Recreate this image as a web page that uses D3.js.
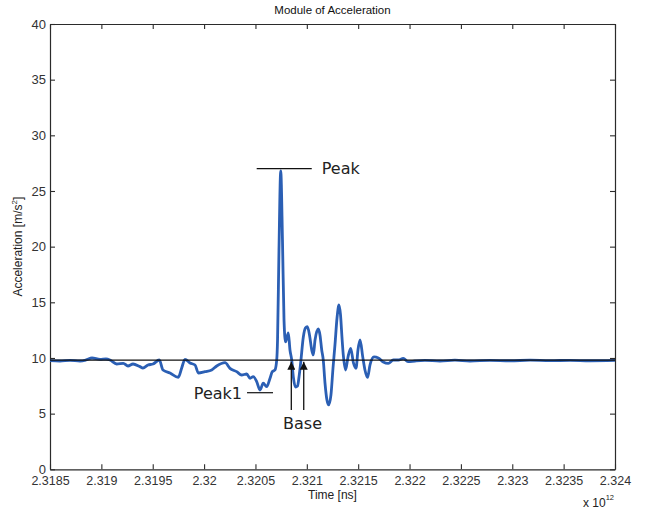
<!DOCTYPE html>
<html>
<head>
<meta charset="utf-8">
<script src="https://cdn.jsdelivr.net/npm/d3@7"></script>
<style>
  body { margin: 0; background: #fff; }
  svg text { font-family: "Liberation Sans", Arial, sans-serif; }
  .note { font-family: "DejaVu Sans", Verdana, sans-serif; font-size: 16px; fill: #222; }
</style>
</head>
<body>
<div id="container"></div>
<script>
// time in units of 1e12 ns
const time = [
  2.318500, 2.318597, 2.318695, 2.318792, 2.318850, 2.318909, 2.318987, 2.319045, 2.319084, 2.319149,
  2.319214, 2.319259, 2.319308, 2.319376, 2.319405, 2.319454, 2.319503, 2.319564, 2.319600, 2.319668,
  2.319749, 2.319782, 2.319814, 2.319863, 2.319912, 2.319944, 2.320009, 2.320074, 2.320123, 2.320204,
  2.320252, 2.320317, 2.320366, 2.320415, 2.320447, 2.320479, 2.320512, 2.320544, 2.320576, 2.320609,
  2.320642, 2.320664, 2.320690, 2.320707, 2.320715, 2.320729, 2.320746, 2.320763, 2.320778, 2.320793,
  2.320820, 2.320836, 2.320853, 2.320870, 2.320890, 2.320909, 2.320924, 2.320940, 2.320966, 2.320987,
  2.321005, 2.321026, 2.321048, 2.321063, 2.321080, 2.321112, 2.321128, 2.321145, 2.321160, 2.321177,
  2.321196, 2.321213, 2.321235, 2.321255, 2.321274, 2.321294, 2.321313, 2.321328, 2.321342, 2.321355,
  2.321377, 2.321401, 2.321427, 2.321454, 2.321479, 2.321498, 2.321518, 2.321544, 2.321566, 2.321591,
  2.321615, 2.321654, 2.321696, 2.321744, 2.321793, 2.321842, 2.321891, 2.321939, 2.321985, 2.322053,
  2.322150, 2.322296, 2.322442, 2.322588, 2.322783, 2.322978, 2.323173, 2.323367, 2.323562, 2.323757,
  2.324000
];

// acceleration module, m/s^2
const accel = [
  9.76, 9.73, 9.78, 9.73, 9.82, 10.00, 9.87, 9.91, 9.82, 9.46,
  9.52, 9.28, 9.46, 9.22, 9.10, 9.37, 9.46, 9.82, 8.92, 8.65,
  8.27, 9.10, 9.88, 9.55, 9.37, 8.65, 8.77, 8.92, 9.28, 9.58,
  9.07, 8.77, 8.47, 8.56, 8.18, 8.32, 7.87, 7.12, 7.73, 7.42,
  8.18, 8.77, 8.92, 9.82, 11.62, 19.71, 26.80, 20.60, 13.41, 11.44,
  12.25, 10.72, 9.82, 8.20, 7.39, 7.48, 8.29, 9.55, 11.89, 12.70,
  12.81, 12.07, 10.72, 10.27, 11.62, 12.61, 12.07, 10.72, 9.82, 7.75,
  6.22, 5.78, 6.68, 9.10, 11.17, 13.59, 14.76, 13.87, 11.89, 10.27,
  8.92, 10.09, 10.87, 9.55, 9.07, 10.72, 11.62, 10.12, 8.92, 8.25,
  9.37, 10.09, 10.00, 9.64, 9.52, 9.82, 9.82, 9.97, 9.67, 9.73,
  9.78, 9.73, 9.80, 9.73, 9.79, 9.75, 9.80, 9.76, 9.79, 9.75,
  9.78
];

const xTicks = [2.3185, 2.319, 2.3195, 2.32, 2.3205, 2.321, 2.3215, 2.322, 2.3225, 2.323, 2.3235, 2.324];
const yTicks = [0, 5, 10, 15, 20, 25, 30, 35, 40];

const baseLevel = 9.8;

// annotations (data coordinates)
const peakMark = { t0: 2.320512, t1: 2.321048, v: 27.0, label: 'Peak' };
const peak1Mark = { t0: 2.320418, t1: 2.320671, v: 6.88, label: 'Peak1' };
const baseArrows = [2.320849, 2.320970];
const baseArrowFrom = 5.33;

const width = 650, height = 513;
const plotLeft = 50, plotRight = 615, plotTop = 24, plotBottom = 469.3;

const svg = d3.select('#container')
  .append('svg')
  .attr('width', width)
  .attr('height', height);

const x = d3.scaleLinear().domain([2.3185, 2.324]).range([plotLeft, plotRight]);
const y = d3.scaleLinear().domain([0, 40]).range([plotBottom, plotTop]);

const axisColor = '#2b2b2b';

const styleAxis = g => {
  g.select('.domain').attr('stroke', axisColor).attr('stroke-width', 1.2);
  g.selectAll('.tick line').attr('stroke', axisColor).attr('stroke-width', 1.1);
  g.selectAll('.tick text').attr('fill', '#333').attr('font-family', '"Liberation Sans", Arial, sans-serif');
};

svg.append('g')
  .attr('transform', `translate(0,${plotBottom})`)
  .call(d3.axisBottom(x).tickValues(xTicks).tickFormat(d => String(d)).tickSize(-5).tickSizeOuter(0).tickPadding(7))
  .call(styleAxis)
  .call(g => g.selectAll('.tick text').attr('font-size', 12.5));

svg.append('g')
  .attr('transform', `translate(0,${plotTop})`)
  .call(d3.axisTop(x).tickValues(xTicks).tickFormat('').tickSize(-5).tickSizeOuter(0))
  .call(styleAxis);

svg.append('g')
  .attr('transform', `translate(${plotLeft},0)`)
  .call(d3.axisLeft(y).tickValues(yTicks).tickSize(-5).tickSizeOuter(0).tickPadding(4))
  .call(styleAxis)
  .call(g => g.selectAll('.tick text').attr('font-size', 13));

svg.append('g')
  .attr('transform', `translate(${plotRight},0)`)
  .call(d3.axisRight(y).tickValues(yTicks).tickFormat('').tickSize(-5).tickSizeOuter(0))
  .call(styleAxis);

// signal
const points = time.map((t, i) => [t, accel[i]]);

const line = d3.line()
  .x(d => x(d[0]))
  .y(d => y(d[1]))
  .curve(d3.curveMonotoneX);

svg.append('path')
  .datum(points)
  .attr('fill', 'none')
  .attr('stroke', '#2b5fb4')
  .attr('stroke-width', 2.8)
  .attr('stroke-linejoin', 'round')
  .attr('d', line);

// baseline level
svg.append('line')
  .attr('x1', x(2.3185)).attr('x2', x(2.324))
  .attr('y1', y(baseLevel)).attr('y2', y(baseLevel))
  .attr('stroke', '#111').attr('stroke-width', 1.3);

// Peak marker
svg.append('line')
  .attr('x1', x(peakMark.t0)).attr('x2', x(peakMark.t1))
  .attr('y1', y(peakMark.v)).attr('y2', y(peakMark.v))
  .attr('stroke', '#111').attr('stroke-width', 1.3);
svg.append('text')
  .attr('class', 'note')
  .attr('x', x(peakMark.t1) + 10)
  .attr('y', y(peakMark.v) + 5)
  .text(peakMark.label);

// Peak1 marker
svg.append('line')
  .attr('x1', x(peak1Mark.t0)).attr('x2', x(peak1Mark.t1))
  .attr('y1', y(peak1Mark.v)).attr('y2', y(peak1Mark.v))
  .attr('stroke', '#111').attr('stroke-width', 1.2);
svg.append('text')
  .attr('class', 'note')
  .attr('text-anchor', 'end')
  .attr('x', x(peak1Mark.t0) - 5)
  .attr('y', y(peak1Mark.v) + 6)
  .text(peak1Mark.label);

// Base arrows
svg.append('defs').append('marker')
  .attr('id', 'head')
  .attr('viewBox', '0 0 10 10')
  .attr('refX', 10).attr('refY', 5)
  .attr('markerWidth', 8).attr('markerHeight', 8)
  .attr('markerUnits', 'userSpaceOnUse')
  .attr('orient', 'auto')
  .append('path')
  .attr('d', 'M0,0 L10,5 L0,10 Z')
  .attr('fill', '#111');

svg.selectAll('.arrow')
  .data(baseArrows)
  .enter()
  .append('line')
  .attr('class', 'arrow')
  .attr('x1', d => x(d)).attr('x2', d => x(d))
  .attr('y1', y(baseArrowFrom)).attr('y2', y(baseLevel) + 1.5)
  .attr('stroke', '#111').attr('stroke-width', 1.3)
  .attr('marker-end', 'url(#head)');

svg.append('text')
  .attr('class', 'note')
  .attr('text-anchor', 'middle')
  .attr('x', (x(baseArrows[0]) + x(baseArrows[1])) / 2 + 5)
  .attr('y', 429)
  .text('Base');

// titles
svg.append('text')
  .attr('x', (plotLeft + plotRight) / 2).attr('y', 14)
  .attr('text-anchor', 'middle')
  .attr('font-size', 11.5).attr('fill', '#111')
  .text('Module of Acceleration');

svg.append('text')
  .attr('x', (plotLeft + plotRight) / 2).attr('y', 499)
  .attr('text-anchor', 'middle')
  .attr('font-size', 12).attr('fill', '#222')
  .text('Time [ns]');

const yLabel = svg.append('text')
  .attr('transform', `translate(22,${(plotTop + plotBottom) / 2}) rotate(-90)`)
  .attr('text-anchor', 'middle')
  .attr('font-size', 12).attr('fill', '#222');
yLabel.append('tspan').text('Acceleration [m/s');
yLabel.append('tspan').attr('font-size', 8).attr('dy', -5).text('2');
yLabel.append('tspan').attr('dy', 5).text(']');

const expo = svg.append('text')
  .attr('x', 583).attr('y', 507)
  .attr('font-size', 12).attr('fill', '#222');
expo.append('tspan').text('x 10');
expo.append('tspan').attr('font-size', 7.5).attr('dy', -7).text('12');
</script>
</body>
</html>
